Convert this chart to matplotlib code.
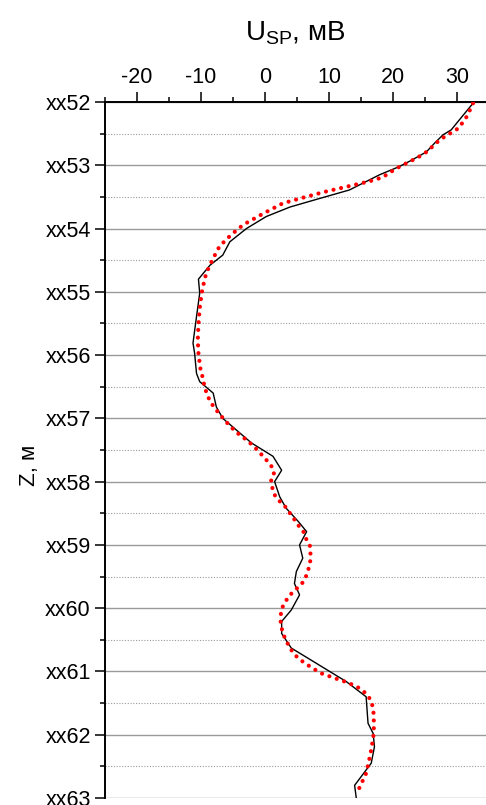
import matplotlib
matplotlib.use("Agg")
import matplotlib.pyplot as plt
from matplotlib.ticker import MultipleLocator, FuncFormatter

plt.rcParams["font.family"] = ["Liberation Sans", "DejaVu Sans"]
plt.rcParams["mathtext.fontset"] = "custom"
plt.rcParams["mathtext.rm"] = "Liberation Sans"

# measured curve (black line): depth, U_SP
depth_meas = [52.02, 52.34, 52.44, 52.52, 52.65, 52.79, 52.92, 53.02, 53.15, 53.39,
              53.54, 53.66, 53.81, 54.0, 54.21, 54.42, 54.58, 54.80, 55.02, 55.39,
              55.81, 55.97, 56.29, 56.42, 56.6, 56.82, 57.0, 57.39, 57.6, 57.82,
              58.0, 58.24, 58.42, 58.63, 58.79, 59.0, 59.21, 59.42, 59.61, 59.79,
              60.03, 60.21, 60.40, 60.63, 60.87, 61.0, 61.16, 61.40, 61.82, 61.98,
              62.19, 62.45, 62.8, 63.03]
u_meas = [32.5, 29.9, 29.1, 27.8, 26.5, 25.2, 22.9, 21.0, 17.9, 13.2,
          8.0, 3.9, 0.2, -2.9, -5.5, -6.6, -8.6, -10.4, -10.2, -10.7,
          -11.25, -11.0, -10.7, -10.2, -8.1, -7.6, -6.6, -2.1, 1.25, 2.6,
          1.5, 2.3, 3.3, 5.2, 6.5, 5.4, 5.9, 4.9, 4.6, 5.4,
          4.1, 2.6, 2.6, 4.1, 8.0, 10.1, 12.7, 15.8, 16.1, 16.9,
          17.1, 16.6, 14.0, 14.3]

# model curve (red dots): depth, U_SP
depth_model = [52.02, 52.13, 52.22, 52.32, 52.41, 52.48, 52.54, 52.6, 52.68, 52.77,
               52.84, 52.9, 52.95, 53.0, 53.06, 53.12, 53.19, 53.26, 53.34, 53.42,
               53.51, 53.6, 53.77, 53.94, 54.1, 54.28, 54.49, 54.71, 54.92, 55.03,
               55.26, 55.52, 55.75, 55.97, 56.21, 56.33, 56.52, 56.66, 56.76, 56.87,
               57.03, 57.21, 57.34, 57.42, 57.51, 57.69, 57.79, 57.88, 58.0, 58.1,
               58.21, 58.31, 58.4, 58.5, 58.6, 58.69, 58.79, 58.9, 59.0, 59.12,
               59.24, 59.34, 59.45, 59.57, 59.65, 59.72, 59.81, 59.91, 60.02, 60.13,
               60.24, 60.36, 60.47, 60.57, 60.66, 60.76, 60.83, 60.9, 60.97, 61.03,
               61.07, 61.11, 61.15, 61.19, 61.23, 61.29, 61.37, 61.47, 61.59, 61.72,
               61.82, 61.94, 62.06, 62.17, 62.29, 62.41, 62.52, 62.64, 62.74, 62.85,
               62.95]
u_model = [32.5, 32.0, 31.6, 30.9, 30.3, 29.2, 28.2, 27.3, 26.4, 25.5,
           24.5, 23.4, 22.5, 21.4, 20.4, 19.4, 18.4, 16.1, 12.7, 9.3,
           6.0, 2.8, -0.4, -3.4, -5.3, -7.1, -8.2, -9.2, -9.7, -9.9,
           -10.2, -10.4, -10.5, -10.4, -10.1, -9.8, -9.4, -8.9, -8.4, -7.6,
           -6.3, -4.6, -2.9, -2.0, -1.1, 0.5, 1.25, 1.4, 0.9, 1.15,
           1.5, 2.3, 3.2, 3.9, 4.6, 5.2, 6.0, 6.4, 7.0, 7.1,
           7.1, 6.9, 6.6, 6.1, 5.4, 4.6, 3.75, 3.1, 2.55, 2.45,
           2.45, 2.7, 3.1, 3.6, 4.1, 4.9, 5.7, 6.7, 7.8, 8.8,
           9.9, 11.0, 12.2, 13.2, 14.2, 15.1, 16.0, 16.6, 16.9, 17.0,
           17.0, 17.0, 16.9, 16.7, 16.5, 16.25, 16.0, 15.7, 15.2, 14.7,
           14.4]

x_ticks = [-20, -10, 0, 10, 20, 30]

fig = plt.figure(figsize=(4.86, 8.05), dpi=100)
ax = fig.add_axes([105 / 486, 7 / 805, 381 / 486, 696 / 805])

ax.plot(u_meas, depth_meas, color="black", lw=1.0, zorder=3)
ax.plot(u_model, depth_model, color="red", lw=3.0, linestyle=(0, (0.01, 1.85)),
        dash_capstyle="round", zorder=4)

ax.set_xlim(-25, 34.53)
ax.set_ylim(63, 52)

ax.xaxis.tick_top()
ax.xaxis.set_label_position("top")
ax.set_xticks(x_ticks)
ax.set_xticklabels([str(t) for t in x_ticks])
ax.xaxis.set_minor_locator(MultipleLocator(5))
ax.yaxis.set_major_locator(MultipleLocator(1))
ax.yaxis.set_minor_locator(MultipleLocator(0.5))
ax.yaxis.set_major_formatter(FuncFormatter(lambda v, p: f"xx{int(round(v)):02d}"))

ax.tick_params(which="major", length=7.2, width=1.1, labelsize=15.5, pad=3)
ax.tick_params(which="minor", length=3.6, width=1.1)
ax.tick_params(axis="x", which="both", top=True, bottom=False)

ax.grid(axis="y", which="major", color="#9a9a9a", lw=1.0, ls="-")
ax.grid(axis="y", which="minor", color="#9a9a9a", lw=0.8, ls=(0, (1, 1.5)))
ax.set_axisbelow(True)

for side in ["right", "bottom"]:
    ax.spines[side].set_visible(False)
for side in ["left", "top"]:
    ax.spines[side].set_linewidth(1.4)

ax.set_xlabel(r"$\mathregular{U_{SP}}$, мВ", fontsize=20, labelpad=19)
ax.set_ylabel("Z, м", fontsize=16)
ax.yaxis.set_label_coords(-0.17, 0.478)

fig.savefig("out.png", dpi=100)
